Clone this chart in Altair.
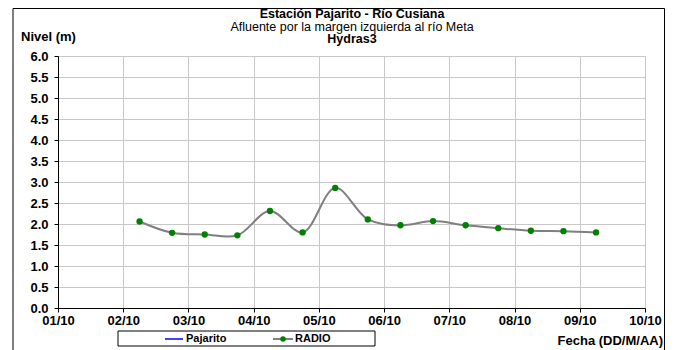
import altair as alt
import pandas as pd

# ---- data ----
fechas = [
    "2023-10-02T06:00", "2023-10-02T18:00", "2023-10-03T06:00", "2023-10-03T18:00",
    "2023-10-04T06:00", "2023-10-04T18:00", "2023-10-05T06:00", "2023-10-05T18:00",
    "2023-10-06T06:00", "2023-10-06T18:00", "2023-10-07T06:00", "2023-10-07T18:00",
    "2023-10-08T06:00", "2023-10-08T18:00", "2023-10-09T06:00",
]
nivel_radio = [2.06, 1.79, 1.75, 1.73, 2.31, 1.80, 2.86, 2.11, 1.97, 2.07, 1.97, 1.90, 1.84, 1.83, 1.80]
y_ticks = [0.0, 0.5, 1.0, 1.5, 2.0, 2.5, 3.0, 3.5, 4.0, 4.5, 5.0, 5.5, 6.0]
x_tick_days = [1, 2, 3, 4, 5, 6, 7, 8, 9, 10]
titulo = "Estación Pajarito - Río Cusiana"
subtitulo = "Afluente por la margen izquierda al río Meta"
titulo3 = "Hydras3"
y_title = "Nivel (m)"
x_title = "Fecha (DD/M/AA)"
legend_labels = ["Pajarito", "RADIO"]

FONT = "Liberation Sans"
W, H = 587, 252

df = pd.DataFrame({"fecha": fechas, "nivel": nivel_radio})
one = alt.Data(values=[{"k": 1}])

x_enc = alt.X(
    "fecha:T",
    scale=alt.Scale(domain=[alt.DateTime(year=2023, month=10, date=1),
                            alt.DateTime(year=2023, month=10, date=10)]),
    axis=alt.Axis(
        values=[alt.DateTime(year=2023, month=10, date=d) for d in x_tick_days],
        format="%d/%m", title=None, labelFont=FONT, labelFontWeight="bold",
        labelFontSize=13, labelColor="black", domainColor="black", tickColor="black",
        tickSize=4, labelPadding=2, gridColor="#c8c8c8", labelFlush=False,
        labelOverlap=False,
    ),
)
y_enc = alt.Y(
    "nivel:Q",
    scale=alt.Scale(domain=[0, 6], nice=False, zero=True),
    axis=alt.Axis(
        values=y_ticks, format=".1f", title=None, labelFont=FONT, labelFontWeight="bold",
        labelFontSize=13, labelColor="black", domainColor="black", tickColor="black",
        tickSize=4, labelPadding=6, gridColor="#c8c8c8", labelOverlap=False,
        labelFlush=False,
    ),
)

base = alt.Chart(df).encode(x=x_enc, y=y_enc)
line = base.mark_line(interpolate="catmull-rom", color="#7f7f7f", strokeWidth=2)
pts = base.mark_circle(size=40, color="#008000", opacity=1)

border = alt.Chart(one).mark_rect(fill="white", fillOpacity=0, stroke="black", strokeWidth=1).encode(
    x=alt.value(-45), x2=alt.value(606.5), y=alt.value(-47.5), y2=alt.value(400))

def txt(s, x, y, bold=True, size=13, align="center"):
    return alt.Chart(one).mark_text(
        text=s, font=FONT, fontSize=size, fontWeight="bold" if bold else "normal",
        align=align, baseline="middle", color="black",
    ).encode(x=alt.value(x), y=alt.value(y))

t1 = txt(titulo, 294, -42, size=12.5)
t2 = txt(subtitulo, 294, -29.5, bold=False, size=12.5)
t3 = txt(titulo3, 294, -17, size=12.5)
ty = txt(y_title, -37, -19, align="left")
tx = txt(x_title, 605, 285, align="right")

leg_box = alt.Chart(one).mark_rect(fill="white", stroke="black", strokeWidth=1).encode(
    x=alt.value(60), x2=alt.value(317), y=alt.value(275), y2=alt.value(290))
leg_blue = alt.Chart(one).mark_rule(color="#0000ff", strokeWidth=1.5).encode(
    x=alt.value(107), x2=alt.value(125), y=alt.value(283))
leg_gray = alt.Chart(one).mark_rule(color="#808080", strokeWidth=2).encode(
    x=alt.value(215), x2=alt.value(235), y=alt.value(283))
leg_dot = alt.Chart(one).mark_circle(size=30, color="#008000", opacity=1).encode(
    x=alt.value(225), y=alt.value(283))
leg_t1 = txt(legend_labels[0], 128, 283, size=11, align="left")
leg_t2 = txt(legend_labels[1], 237, 283, size=11, align="left")

chart = alt.layer(
    border, line, pts, t1, t2, t3, ty, tx, leg_box, leg_blue, leg_gray, leg_dot, leg_t1, leg_t2
).properties(
    width=W, height=H,
    autosize=alt.AutoSizeParams(type="none"),
    padding={"left": 50, "top": 48, "right": 21, "bottom": 42},
).configure_view(stroke=None).configure(background="white")

chart.save("out.html", embed_options={"renderer": "svg", "actions": False})
